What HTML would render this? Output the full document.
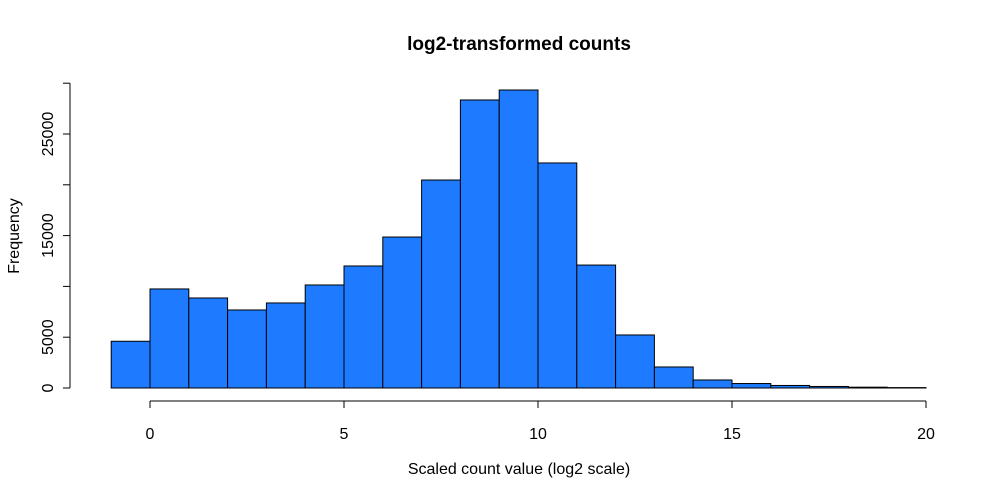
<!DOCTYPE html>
<html><head><meta charset="utf-8"><style>body{margin:0;background:#fff}svg{display:block}text{font-family:"Liberation Sans",Arial,sans-serif;fill:#000}</style></head>
<body>
<svg id="chart" width="1000" height="499" viewBox="0 0 1000 499">
<text x="519" y="50" text-anchor="middle" font-size="19" font-weight="bold">log2-transformed counts</text>
<text x="519" y="474" text-anchor="middle" font-size="16">Scaled count value (log2 scale)</text>
<text transform="translate(19,236) rotate(-90)" text-anchor="middle" font-size="16">Frequency</text>
<g id="bars"></g>
<g id="xaxis"></g>
<g id="yaxis"></g>
</svg>
<script>
const binStarts=[-1,0,1,2,3,4,5,6,7,8,9,10,11,12,13,14,15,16,17,18,19];
const counts=[4600,9750,8860,7680,8370,10140,12010,14860,20470,28350,29330,22150,12100,5220,2070,790,440,250,150,80,40];
const xTicks=[0,5,10,15,20];
const yTicks=[0,5000,10000,15000,20000,25000,30000];
const yLabels=["0","5000","","15000","","25000",""];
const NS="http://www.w3.org/2000/svg";
const xs=v=>150+v*38.8;
const ys=v=>388-v*0.01016;
function mk(t,a,p){const e=document.createElementNS(NS,t);for(const k in a)e.setAttribute(k,a[k]);p.appendChild(e);return e;}
const bars=document.getElementById('bars');
binStarts.forEach((b,i)=>{
 const r=mk('rect',{x:xs(b),y:ys(counts[i]),width:xs(b+1)-xs(b),height:388-ys(counts[i]),fill:'#1e7bff',stroke:'#000','stroke-width':1},bars);
 
 
});
const xa=document.getElementById('xaxis');
mk('line',{x1:xs(xTicks[0]),x2:xs(xTicks[xTicks.length-1]),y1:401,y2:401,stroke:'#000'},xa);
xTicks.forEach(t=>{
 mk('line',{x1:xs(t),x2:xs(t),y1:401,y2:408,stroke:'#000'},xa);
 const tx=mk('text',{x:xs(t),y:439,'text-anchor':'middle','font-size':16},xa);
 tx.textContent=t;
 
 
});
const ya=document.getElementById('yaxis');
mk('line',{x1:70,x2:70,y1:ys(yTicks[0]),y2:ys(yTicks[yTicks.length-1]),stroke:'#000'},ya);
yTicks.forEach((t,i)=>{
 mk('line',{x1:63,x2:70,y1:ys(t),y2:ys(t),stroke:'#000'},ya);
 if(yLabels[i]){
 const tx=mk('text',{transform:`translate(53,${ys(t)}) rotate(-90)`,'text-anchor':'middle','font-size':16},ya);
 tx.textContent=yLabels[i];
 
 
 }
});
</script>
</body></html>
